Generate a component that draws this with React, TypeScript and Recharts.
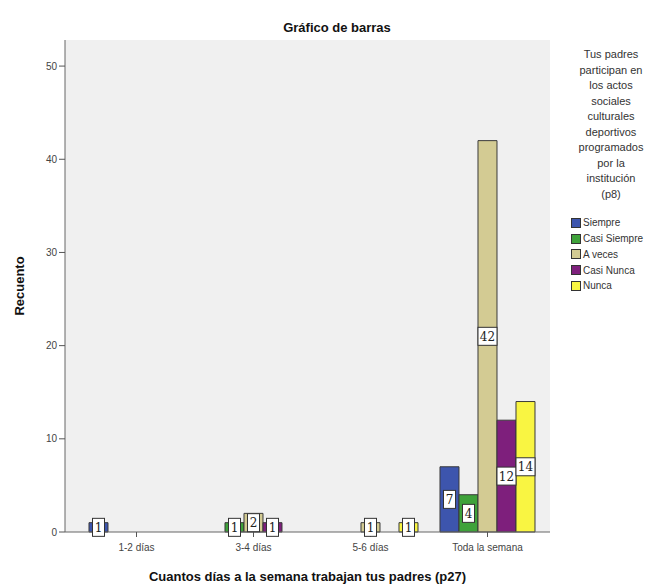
import { Bar, BarChart, LabelList, XAxis, YAxis, CartesianGrid } from "recharts"

// Días trabajados (p27) vs participación en actos (p8)
const categories = ["1-2 días", "3-4 días", "5-6 días", "Toda la semana"]
const siempre = [1, 0, 0, 7]
const casiSiempre = [0, 1, 0, 4]
const aVeces = [0, 2, 1, 42]
const casiNunca = [0, 1, 0, 12]
const nunca = [0, 0, 1, 14]
const yTicks = [0, 10, 20, 30, 40, 50]

const series = [
  { key: "siempre", name: "Siempre", color: "#3d55ad" },
  { key: "casiSiempre", name: "Casi Siempre", color: "#3ea23a" },
  { key: "aVeces", name: "A veces", color: "#d3cb93" },
  { key: "casiNunca", name: "Casi Nunca", color: "#7e1f7c" },
  { key: "nunca", name: "Nunca", color: "#f9f542" },
]

const legendTitle = [
  "Tus padres",
  "participan en",
  "los actos",
  "sociales",
  "culturales",
  "deportivos",
  "programados",
  "por la",
  "institución",
  "(p8)",
]

const data = categories.map((name, i) => ({
  name,
  siempre: siempre[i],
  casiSiempre: casiSiempre[i],
  aVeces: aVeces[i],
  casiNunca: casiNunca[i],
  nunca: nunca[i],
}))

const font = "'Liberation Sans', Arial, sans-serif"

// white box with the count, drawn in the middle of the bar
const CountLabel = (props: any) => {
  const { x, y, width, height, value } = props
  if (!value) return null
  const w = String(value).length > 1 ? 19 : 12
  const h = 18
  const cx = x + width / 2
  const cy = y + height / 2
  return (
    <g>
      <rect x={cx - w / 2} y={cy - h / 2} width={w} height={h} fill="#fff" stroke="#333" strokeWidth={1} />
      <text x={cx} y={cy + 4.5} textAnchor="middle" fontSize={12} fontFamily="'DejaVu Serif', serif" fill="#222">
        {value}
      </text>
    </g>
  )
}

const LegendBox = () => (
  <div style={{ fontFamily: font, fontSize: 11, color: "#333", width: 106 }}>
    <div style={{ textAlign: "center", lineHeight: "15.5px" }}>
      {legendTitle.map((t) => (
        <div key={t}>{t}</div>
      ))}
    </div>
    <div style={{ marginTop: 13, paddingLeft: 13 }}>
      {series.map((s) => (
        <div key={s.key} style={{ display: "flex", alignItems: "center", height: 15.75, fontSize: 10 }}>
          <span
            style={{
              display: "inline-block",
              width: 10,
              height: 10,
              background: s.color,
              border: "1px solid #333",
              marginRight: 2,
              boxSizing: "border-box",
            }}
          />
          {s.name}
        </div>
      ))}
    </div>
  </div>
)

export default function App() {
  return (
    <div style={{ position: "absolute", left: 0, top: 0, width: 662, height: 588, background: "#fff" }}>
      <BarChart
        width={662}
        height={588}
        data={data}
        margin={{ top: 40, right: 112, bottom: 26, left: 20 }}
        barCategoryGap="9.4%"
        barGap={0}
      >
        <CartesianGrid horizontal={false} vertical={false} fill="#f0f0f0" />
        <XAxis
          dataKey="name"
          padding={{ left: 13, right: 4 }}
          tick={{ fontSize: 10, fill: "#444", fontFamily: font, dy: 5 }}
          tickLine={{ stroke: "#555" }}
          tickSize={5}
          axisLine={{ stroke: "#666" }}
          height={30}
          interval={0}
          label={{
            value: "Cuantos días a la semana trabajan tus padres (p27)",
            position: "insideBottom",
            offset: -19,
            style: { fontSize: 13, fontWeight: "bold", fill: "#111", fontFamily: font },
          }}
        />
        <XAxis xAxisId="top" orientation="top" dataKey="name" tick={false} tickLine={false} axisLine={{ stroke: "#777" }} height={0} />
        <YAxis
          domain={[0, 52.8]}
          ticks={yTicks}
          width={45}
          tick={{ fontSize: 10, fill: "#444", fontFamily: font }}
          tickLine={{ stroke: "#555" }}
          tickSize={6}
          axisLine={{ stroke: "#666" }}
          label={{
            value: "Recuento",
            angle: -90,
            position: "insideLeft",
            offset: -1,
            style: { fontSize: 13, fontWeight: "bold", fill: "#111", fontFamily: font, textAnchor: "middle" },
          }}
        />
        <YAxis yAxisId="right" orientation="right" domain={[0, 52.8]} tick={false} tickLine={false} axisLine={{ stroke: "#777" }} width={0} />
        {series.map((s) => (
          <Bar key={s.key} dataKey={s.key} name={s.name} fill={s.color} stroke="#3a3a3a" strokeWidth={1} isAnimationActive={false}>
            <LabelList dataKey={s.key} content={CountLabel} />
          </Bar>
        ))}
      </BarChart>
      <div style={{ position: "absolute", left: 558, top: 47 }}>
        <LegendBox />
      </div>
      <div
        style={{
          position: "absolute",
          top: 20,
          left: 0,
          width: 662,
          textAlign: "center",
          fontFamily: font,
          fontSize: 13,
          fontWeight: "bold",
          color: "#111",
          paddingLeft: 12,
          boxSizing: "border-box",
        }}
      >
        Gráfico de barras
      </div>
    </div>
  )
}
